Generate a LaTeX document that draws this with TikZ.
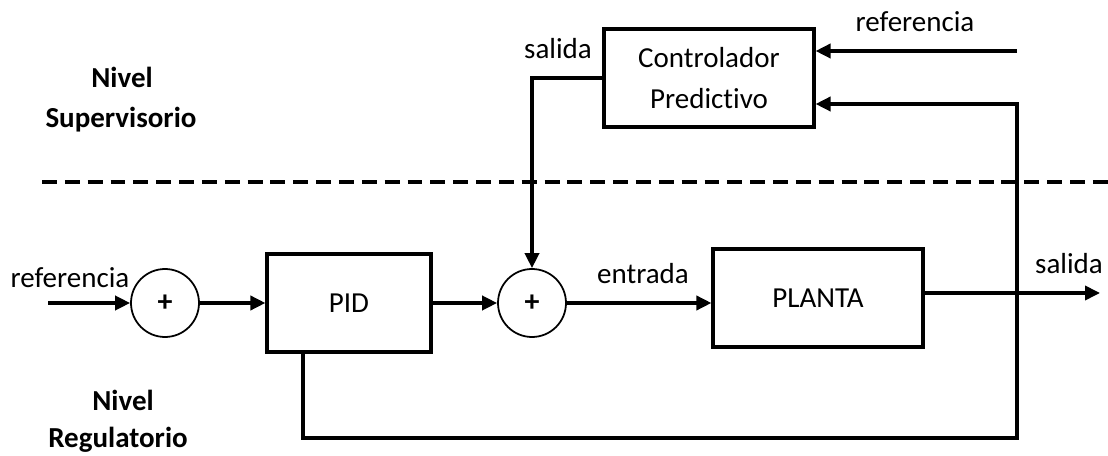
\documentclass[tikz,border=0pt]{standalone}
\usepackage{fontspec}
\setmainfont{Carlito}[Ligatures={NoCommon}]
\usepackage{tikz}
\usetikzlibrary{arrows.meta}

\begin{document}
\begin{tikzpicture}[
  font=\fontsize{16.5}{23.3}\selectfont,
  bloque/.style={draw,line width=1.8pt,align=center,inner sep=0pt},
  suma/.style={draw,circle,line width=1pt,minimum size=1.36cm,inner sep=0pt,font=\fontsize{17}{18}\selectfont\bfseries},
  flecha/.style={line width=1.9pt,-{Triangle[length=8.5pt,width=8pt]}},
  linea/.style={line width=1.9pt},
  nivel/.style={anchor=base,font=\fontsize{16.5}{18}\selectfont\bfseries}]
\useasboundingbox (0,0) rectangle (22.16,9.12);

\node[bloque,minimum width=4.2cm,minimum height=1.96cm] (ctrl) at (14.18,7.56) {Controlador\\Predictivo};
\node[suma] (s1) at (3.3,3.06) {+};
\node[bloque,minimum width=3.28cm,minimum height=1.96cm] (pid) at (6.98,3.06) {PID};
\node[suma] (s2) at (10.64,3.06) {+};
\node[bloque,minimum width=4.2cm,minimum height=1.96cm] (planta) at (16.36,3.16) {PLANTA};

\coordinate (ref) at (0.96,3.06);
\coordinate (refmpc) at (20.34,8.1);
\coordinate (out) at (22.0,3.26);
\coordinate (fbtop) at (20.34,7.04);
\coordinate (fbr) at (20.34,0.36);
\coordinate (fbl) at (6.06,0.36);
\coordinate (dl) at (0.84,5.48);
\coordinate (dr) at (22.16,5.48);

\draw[flecha] (ref) -- (s1);
\draw[flecha] (s1) -- (pid);
\draw[flecha] (pid) -- (s2);
\draw[flecha] (s2) -- (s2 -| planta.west);
\draw[flecha] (planta.east |- out) -- (out);
\draw[flecha] (refmpc) -- (refmpc -| ctrl.east);
\draw[flecha] (ctrl.west) -- (ctrl.west -| s2) -- (s2.north);
\draw[flecha] (fbl |- pid.south) -- (fbl) -- (fbr) -- (fbtop) -- (fbtop -| ctrl.east);
\draw[linea,dash pattern=on 8.5pt off 4.5pt] (dl) -- (dr);

\node[anchor=base] (lref) at (1.4,3.36) {referencia};
\node[anchor=base] (lent) at (12.86,3.44) {entrada};
\node[anchor=base] (lsal) at (21.38,3.64) {salida};
\node[anchor=base] (lrefmpc) at (18.3,8.48) {referencia};
\node[anchor=base] (lsalmpc) at (11.16,7.94) {salida};

\node[nivel] (niv1) at (2.44,7.36) {Nivel};
\node[nivel] (sup) at (2.42,6.56) {Supervisorio};
\node[nivel] (niv2) at (2.46,0.9) {Nivel};
\node[nivel] (reg) at (2.36,0.16) {Regulatorio};
\end{tikzpicture}
\end{document}
